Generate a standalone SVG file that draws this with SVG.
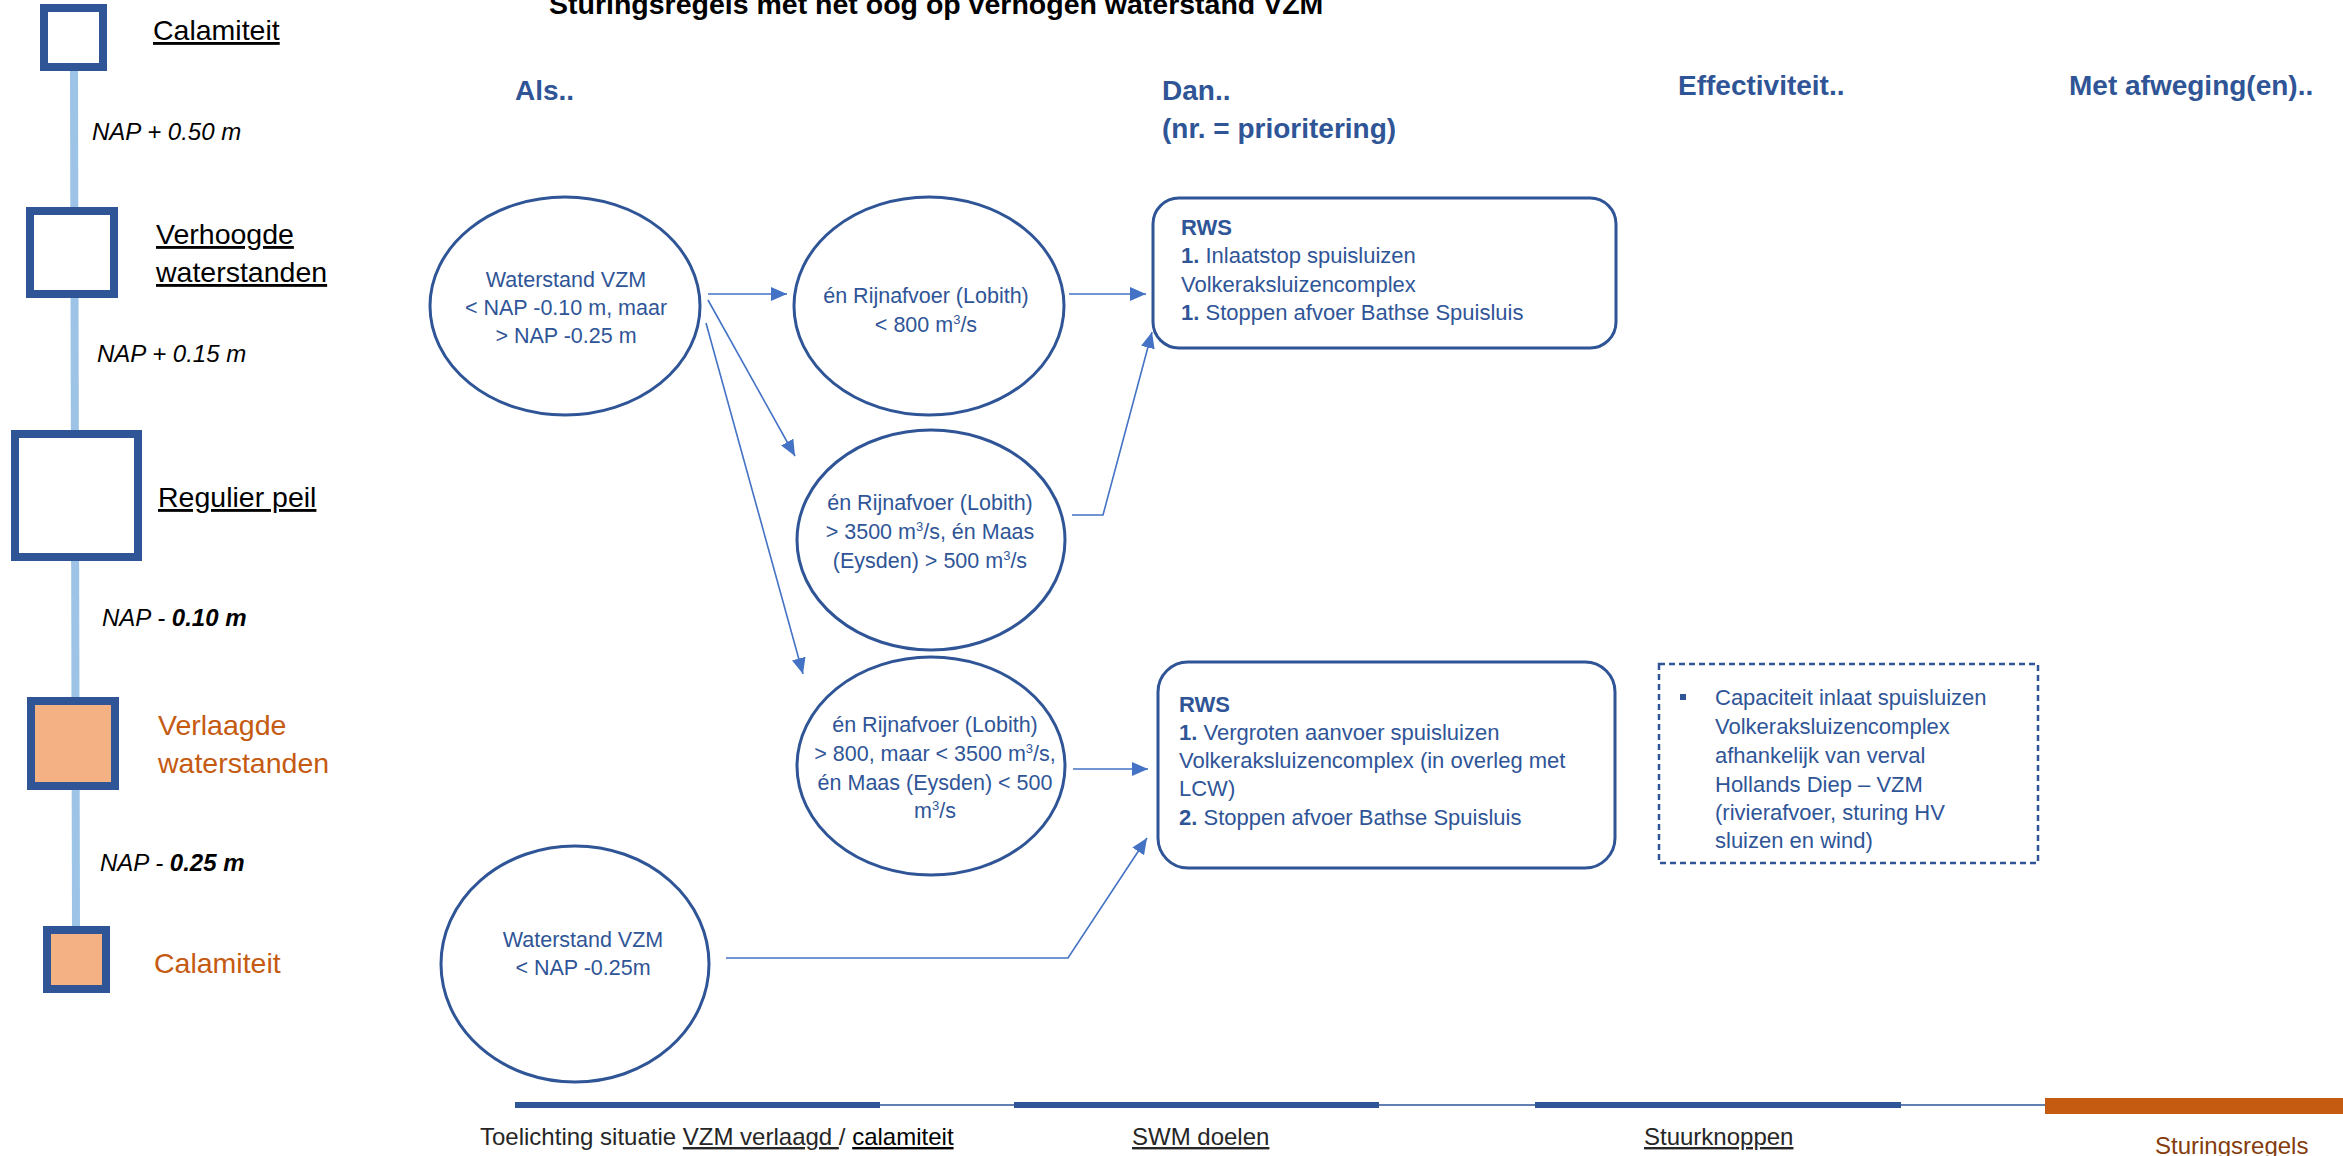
<svg xmlns="http://www.w3.org/2000/svg" width="2343" height="1156" viewBox="0 0 2343 1156">
<style>
text{font-family:"Liberation Sans",Arial,sans-serif}
.lbl{font-size:28.5px;fill:#000;text-decoration:underline}
.org{font-size:28.5px;fill:#C55A11}
.nap{font-size:24px;font-style:italic;fill:#000}
.hd{font-size:28px;font-weight:bold;fill:#2F5597}
.ct{font-size:21.5px;fill:#2F5597;text-anchor:middle}
.bt{font-size:22px;fill:#2F5597}
.b{font-weight:bold}
.circ{fill:#fff;stroke:#2F5597;stroke-width:3}
.box{fill:#fff;stroke:#2F5597;stroke-width:3}
.sq{fill:#fff;stroke:#2F5597;stroke-width:8}
.sqo{fill:#F4B183;stroke:#2F5597;stroke-width:8}
.con{fill:none;stroke:#4472C4;stroke-width:1.6}
.ft{font-size:24px;fill:#262626}
</style>
<defs>
<marker id="ah" markerUnits="userSpaceOnUse" markerWidth="16" markerHeight="14" refX="16" refY="7" orient="auto">
<path d="M0,0 L16,7 L0,14 z" fill="#4472C4"/>
</marker>
</defs>
<rect width="2343" height="1156" fill="#fff"/>

<text x="549" y="14" font-size="28.5" font-weight="bold" fill="#000">Sturingsregels met het oog op verhogen waterstand VZM</text>

<g id="legend">
<line x1="74" y1="71" x2="76" y2="930" stroke="#9DC3E6" stroke-width="8"/>
<g id="lvl-calamiteit-top"><rect class="sq" x="44" y="8" width="59" height="59"/><text class="lbl" x="153" y="40">Calamiteit</text></g>
<text class="nap" x="92" y="140">NAP + 0.50 m</text>
<g id="lvl-verhoogd"><rect class="sq" x="30" y="211" width="84" height="83"/><text class="lbl" x="156" y="244">Verhoogde</text><text class="lbl" x="156" y="282">waterstanden</text></g>
<text class="nap" x="97" y="362">NAP + 0.15 m</text>
<g id="lvl-regulier"><rect class="sq" x="15" y="434" width="123" height="123"/><text class="lbl" x="158" y="507">Regulier peil</text></g>
<text class="nap" x="102" y="626">NAP - <tspan font-weight="bold">0.10 m</tspan></text>
<g id="lvl-verlaagd"><rect class="sqo" x="31" y="701" width="84" height="85"/><text class="org" x="158" y="735">Verlaagde</text><text class="org" x="158" y="773">waterstanden</text></g>
<text class="nap" x="100" y="871">NAP - <tspan font-weight="bold">0.25 m</tspan></text>
<g id="lvl-calamiteit-bot"><rect class="sqo" x="47" y="930" width="59" height="59"/><text class="org" x="154" y="973">Calamiteit</text></g>
</g>

<text class="hd" x="515" y="100">Als..</text>
<text class="hd" x="1162" y="100">Dan..</text>
<text class="hd" x="1162" y="138">(nr. = prioritering)</text>
<text class="hd" x="1678" y="95">Effectiviteit..</text>
<text class="hd" x="2069" y="95">Met afweging(en)..</text>

<g id="connectors">
<line class="con" x1="708" y1="294" x2="787" y2="294" marker-end="url(#ah)"/>
<line class="con" x1="708" y1="300" x2="795" y2="456" marker-end="url(#ah)"/>
<line class="con" x1="706" y1="323" x2="803" y2="674" marker-end="url(#ah)"/>
<line class="con" x1="1069" y1="294" x2="1146" y2="294" marker-end="url(#ah)"/>
<polyline class="con" points="1072,515 1103,515 1152,332" marker-end="url(#ah)"/>
<line class="con" x1="1073" y1="769" x2="1148" y2="769" marker-end="url(#ah)"/>
<polyline class="con" points="726,958 1068,958 1147,838" marker-end="url(#ah)"/>
</g>

<g id="c1"><ellipse class="circ" cx="565" cy="306" rx="135" ry="109"/>
<text class="ct" x="566" y="287">Waterstand VZM</text><text class="ct" x="566" y="315">&lt; NAP -0.10 m, maar</text><text class="ct" x="566" y="343">&gt; NAP -0.25 m</text></g>

<g id="c2"><ellipse class="circ" cx="929" cy="306" rx="135" ry="109"/>
<text class="ct" x="926" y="303">én Rijnafvoer (Lobith)</text><text class="ct" x="926" y="332">&lt; 800 m<tspan font-size="13" dy="-8">3</tspan><tspan dy="8">/s</tspan></text></g>

<g id="c3"><ellipse class="circ" cx="931" cy="540" rx="134" ry="110"/>
<text class="ct" x="930" y="510">én Rijnafvoer (Lobith)</text><text class="ct" x="930" y="539">&gt; 3500 m<tspan font-size="13" dy="-8">3</tspan><tspan dy="8">/s, én Maas</tspan></text><text class="ct" x="930" y="568">(Eysden) &gt; 500 m<tspan font-size="13" dy="-8">3</tspan><tspan dy="8">/s</tspan></text></g>

<g id="c4"><ellipse class="circ" cx="931" cy="766" rx="134" ry="109"/>
<text class="ct" x="935" y="732">én Rijnafvoer (Lobith)</text><text class="ct" x="935" y="761">&gt; 800, maar &lt; 3500 m<tspan font-size="13" dy="-8">3</tspan><tspan dy="8">/s,</tspan></text><text class="ct" x="935" y="790">én Maas (Eysden) &lt; 500</text><text class="ct" x="935" y="818">m<tspan font-size="13" dy="-8">3</tspan><tspan dy="8">/s</tspan></text></g>

<g id="c5"><ellipse class="circ" cx="575" cy="964" rx="134" ry="118"/>
<text class="ct" x="583" y="947">Waterstand VZM</text><text class="ct" x="583" y="975">&lt; NAP -0.25m</text></g>

<g id="box1"><rect class="box" x="1153" y="198" width="463" height="150" rx="26"/>
<text class="bt b" x="1181" y="235">RWS</text>
<text class="bt" x="1181" y="263"><tspan class="b">1.</tspan> Inlaatstop spuisluizen</text>
<text class="bt" x="1181" y="292">Volkeraksluizencomplex</text>
<text class="bt" x="1181" y="320"><tspan class="b">1.</tspan> Stoppen afvoer Bathse Spuisluis</text></g>

<g id="box2"><rect class="box" x="1158" y="662" width="457" height="206" rx="30"/>
<text class="bt b" x="1179" y="712">RWS</text>
<text class="bt" x="1179" y="740"><tspan class="b">1.</tspan> Vergroten aanvoer spuisluizen</text>
<text class="bt" x="1179" y="768">Volkeraksluizencomplex (in overleg met</text>
<text class="bt" x="1179" y="796">LCW)</text>
<text class="bt" x="1179" y="825"><tspan class="b">2.</tspan> Stoppen afvoer Bathse Spuisluis</text></g>

<g id="box3"><rect x="1659" y="664" width="379" height="199" fill="#fff" stroke="#2F5597" stroke-width="2.5" stroke-dasharray="6,4"/>
<rect x="1680" y="694" width="6" height="6" fill="#2F5597"/>
<text class="bt" x="1715" y="705">Capaciteit inlaat spuisluizen</text>
<text class="bt" x="1715" y="734">Volkeraksluizencomplex</text>
<text class="bt" x="1715" y="763">afhankelijk van verval</text>
<text class="bt" x="1715" y="792">Hollands Diep – VZM</text>
<text class="bt" x="1715" y="820">(rivierafvoer, sturing HV</text>
<text class="bt" x="1715" y="848">sluizen en wind)</text></g>

<g id="footer">
<line x1="515" y1="1105" x2="2045" y2="1105" stroke="#2F5597" stroke-width="1.5"/>
<rect x="515" y="1102" width="365" height="6" fill="#2F5597"/>
<rect x="1014" y="1102" width="365" height="6" fill="#2F5597"/>
<rect x="1535" y="1102" width="366" height="6" fill="#2F5597"/>
<rect x="2045" y="1098" width="298" height="16" fill="#C55A11"/>
<text class="ft" x="480" y="1145">Toelichting situatie <tspan text-decoration="underline">VZM verlaagd </tspan>/ <tspan text-decoration="underline" fill="#000">calamiteit</tspan></text>
<text class="ft" x="1132" y="1145" text-decoration="underline">SWM doelen</text>
<text class="ft" x="1644" y="1145" text-decoration="underline">Stuurknoppen</text>
<text x="2155" y="1154" font-size="24" fill="#843C0C">Sturingsregels</text>
</g>
</svg>
